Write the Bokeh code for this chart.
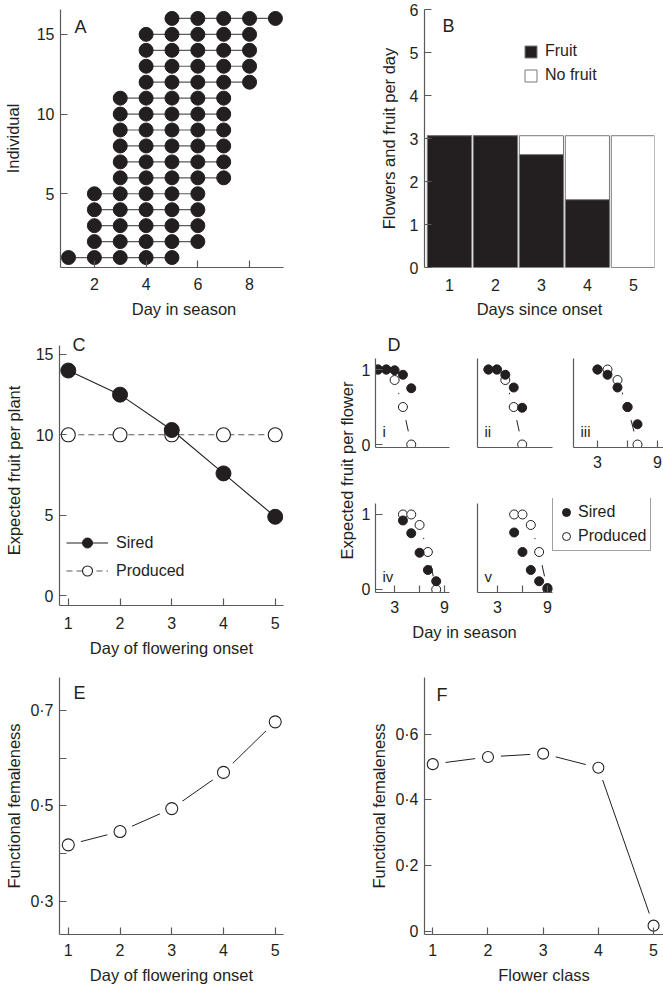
from bokeh.plotting import figure
from bokeh.layouts import row, column
from bokeh.models import (Range1d, FixedTicker, Label, Legend, LegendItem,
                          CustomJSTickFormatter)
from bokeh.embed import file_html
from bokeh.resources import INLINE

FONT = "Liberation Sans"
INK = "#231f20"
AXC = "#5a5a5a"
TICK = "16px"
LAB = "16.5px"

# ---------------- data ----------------
# Panel A: flowering period of each individual
individual = list(range(1, 17))
first_day = [1, 2, 2, 2, 2, 3, 3, 3, 3, 3, 3, 4, 4, 4, 4, 5]
last_day = [5, 6, 6, 6, 6, 7, 7, 7, 7, 7, 7, 8, 8, 8, 8, 9]

# Panel B
days_since_onset = [1, 2, 3, 4, 5]
flowers_per_day = [3.07, 3.07, 3.07, 3.07, 3.07]
fruit_per_day = [3.07, 3.07, 2.63, 1.58, 0.0]

# Panel C
onset_day = [1, 2, 3, 4, 5]
sired_per_plant = [14.0, 12.5, 10.3, 7.6, 4.9]
produced_per_plant = [10.0, 10.0, 10.0, 10.0, 10.0]

# Panel D (one sub-panel per onset day)
d_onset = [1, 2, 3, 4, 5]
d_names = ["i", "ii", "iii", "iv", "v"]
d_offsets = [0, 1, 2, 3, 4]
produced_per_flower = [1.0, 1.0, 0.86, 0.5, 0.0]
sired_per_flower = [
    [1.0, 1.0, 0.99, 0.93, 0.75],
    [1.0, 1.0, 0.93, 0.76, 0.49],
    [1.0, 0.93, 0.76, 0.50, 0.27],
    [0.92, 0.75, 0.49, 0.26, 0.11],
    [0.76, 0.50, 0.26, 0.11, 0.02],
]

# Panel E
femaleness_by_onset = [0.418, 0.446, 0.494, 0.570, 0.676]
# Panel F
flower_class = [1, 2, 3, 4, 5]
femaleness_by_class = [0.509, 0.531, 0.541, 0.498, 0.017]


# ---------------- helpers ----------------
def base(w, h, l, r, t, b, xr=(0, 1), yr=(0, 1), xloc="below", yloc="left"):
    p = figure(width=w, height=h, min_border_left=l, min_border_right=r,
               min_border_top=t, min_border_bottom=b,
               x_range=Range1d(*xr), y_range=Range1d(*yr),
               x_axis_location=xloc, y_axis_location=yloc,
               output_backend="svg", toolbar_location=None)
    p.grid.visible = False
    p.outline_line_color = None
    p.background_fill_color = "white"
    p.border_fill_color = "white"
    return p


def style(p, xs=(8, 8), ys=(6, 10), tick=TICK, lab=LAB):
    axes = [(a, xs) for a in p.xaxis] + [(a, ys) for a in p.yaxis]
    for ax, (ms, ls) in axes:
        ax.axis_line_color = AXC
        ax.axis_line_width = 1.2
        ax.major_tick_line_color = AXC
        ax.minor_tick_line_color = AXC
        ax.major_tick_line_width = 1.2
        ax.minor_tick_line_width = 1.2
        ax.major_tick_in = 7
        ax.major_tick_out = 0
        ax.minor_tick_in = 7
        ax.minor_tick_out = 0
        ax.major_label_text_font = FONT
        ax.major_label_text_font_size = tick
        ax.major_label_text_color = INK
        ax.major_label_standoff = ms
        ax.axis_label_text_font = FONT
        ax.axis_label_text_font_style = "normal"
        ax.axis_label_text_font_size = lab
        ax.axis_label_text_color = INK
        ax.axis_label_standoff = ls


def letter(p, text, x, y, size="18px"):
    p.add_layout(Label(x=x, y=y, x_units="screen", y_units="screen", text=text,
                       text_font=FONT, text_font_size=size, text_color=INK,
                       text_baseline="top", text_align="left"))


def gap_line(p, x, y, size):
    p.line(x, y, line_color=INK, line_width=1)
    p.scatter(x, y, size=26, fill_color="white", line_color=None)
    return p.scatter(x, y, size=size, fill_color="white", line_color=INK, line_width=1.1)


def legend(items, **kw):
    opts = dict(padding=0, margin=0, label_text_font=FONT, label_text_font_size="16px",
                label_text_color=INK, border_line_color=None, background_fill_alpha=0)
    opts.update(kw)
    return Legend(items=items, **opts)


# ---------------- Panel A ----------------
hA, tA, bA = 320, 9, 52
pA = base(330, hA, 59, 23, tA, bA, (0.69, 10.24), (0.375, 16.56))
style(pA, xs=(10, 7), ys=(6, 12))
pA.xaxis.bounds = (0.69, 9.32)
pA.segment(x0=first_day, x1=last_day, y0=individual, y1=individual,
           line_color=AXC, line_width=1.2)
ax_, ay_ = [], []
for ind, a, b in zip(individual, first_day, last_day):
    for d in range(a, b + 1):
        ax_.append(d)
        ay_.append(ind)
pA.scatter(ax_, ay_, size=14, fill_color=INK, line_color=INK)
pA.xaxis.ticker = FixedTicker(ticks=[2, 4, 6, 8])
pA.yaxis.ticker = FixedTicker(ticks=[5, 10, 15])
pA.xaxis.axis_label = "Day in season"
pA.yaxis.axis_label = "Individual"
letter(pA, "A", 14, hA - tA - bA - 8)

# ---------------- Panel B ----------------
hB, tB, bB = 320, 9, 52
pB = base(333, hB, 94, 9, tB, bB, (0.457, 5.46), (0, 6.01))
style(pB, xs=(11, 6), ys=(6, 9))
rNo = pB.vbar(x=days_since_onset, bottom=0, top=flowers_per_day, width=0.96,
              fill_color="white", line_color="#7a7a7a", line_width=1)
rFr = pB.vbar(x=days_since_onset, bottom=0, top=fruit_per_day, width=0.96,
              fill_color=INK, line_color="#7a7a7a", line_width=1)
pB.xaxis.ticker = FixedTicker(ticks=days_since_onset)
pB.xaxis.axis_line_color = None
pB.xaxis.major_tick_line_color = None
pB.yaxis.ticker = FixedTicker(ticks=[0, 1, 2, 3, 4, 5, 6])
pB.xaxis.axis_label = "Days since onset"
pB.yaxis.axis_label = "Flowers and fruit per day"
fhB = hB - tB - bB
pB.add_layout(legend([LegendItem(label="Fruit", renderers=[rFr]),
                      LegendItem(label="No fruit", renderers=[rNo])],
                     location=(99, 183), spacing=6, glyph_width=15,
                     glyph_height=15, label_standoff=7))
letter(pB, "B", 18, fhB - 7)

# ---------------- Panel C ----------------
hC, tC, bC = 339, 15, 54
pC = base(330, hC, 59, 47, tC, bC, (0.83, 5.16), (-0.62, 16.18))
style(pC, xs=(11, 7), ys=(6, 10))
pC.yaxis.bounds = (-0.62, 15.56)
lP = pC.line(onset_day, produced_per_plant, line_color=AXC, line_width=1.1,
             line_dash="6 4")
lS = pC.line(onset_day, sired_per_plant, line_color=INK, line_width=1.1)
cP = pC.scatter(onset_day, produced_per_plant, size=14, fill_color="white",
                line_color=INK, line_width=1.1)
cS = pC.scatter(onset_day, sired_per_plant, size=15, fill_color=INK,
                line_color=INK)
pC.xaxis.ticker = FixedTicker(ticks=onset_day)
pC.yaxis.ticker = FixedTicker(ticks=[0, 5, 10, 15])
pC.xaxis.axis_label = "Day of flowering onset"
pC.yaxis.axis_label = "Expected fruit per plant"
fhC = hC - tC - bC
pC.add_layout(legend([LegendItem(label="Sired", renderers=[lS, cS]),
                      LegendItem(label="Produced", renderers=[lP, cP])],
                     location=(7, 22), spacing=3, glyph_width=42,
                     glyph_height=25, label_standoff=8))
letter(pC, "C", 13, fhC + 1)

# ---------------- Panel D ----------------
# y-axis title shared by the five small panels (same top/bottom borders as C)
dlab = base(28, hC, 25, 0, tC, bC, xloc=None)
style(dlab, ys=(0, 0))
dlab.yaxis.ticker = FixedTicker(ticks=[])
dlab.yaxis.axis_line_color = None
dlab.yaxis.major_tick_in = 0
dlab.yaxis.axis_label = "Expected fruit per flower"


def dpanel(k, w, l, r, t, b, h, xr, yr, show_x, show_y):
    p = base(w, h, l, r, t, b, xr, yr)
    style(p, xs=(8, 5), ys=(5, 5))
    p.xaxis.bounds = (xr[0], 9.6)
    p.yaxis.bounds = (-0.04, 1.15)
    days = [d_onset[k] + o for o in d_offsets]
    p.line(days, produced_per_flower, line_color=INK, line_width=1)
    p.scatter(days, produced_per_flower, size=27, fill_color="white", line_color=None)
    rp = p.scatter(days, produced_per_flower, size=9, fill_color="white",
                   line_color=INK, line_width=1)
    rs = p.scatter(days, sired_per_flower[k], size=9, fill_color=INK, line_color=INK)
    p.xaxis.ticker = FixedTicker(ticks=[3, 9], minor_ticks=[6]) if show_x else FixedTicker(ticks=[])
    p.yaxis.ticker = FixedTicker(ticks=[0, 1]) if show_y else FixedTicker(ticks=[])
    p.add_layout(Label(x=7, y=8, x_units="screen", y_units="screen", text=d_names[k],
                       text_font=FONT, text_font_size="15px", text_color=INK,
                       text_baseline="bottom", text_align="left"))
    return p, rs, rp


top_yr = (-0.04, 1.467)
bot_yr = (-0.04, 1.213)
d1, _, _ = dpanel(0, 103, 16, 12, 14, 28, 155, (0.7, 9.6), top_yr, False, True)
d2, _, _ = dpanel(1, 96, 16, 5, 14, 28, 155, (0.7, 9.6), top_yr, False, False)
d3, _, _ = dpanel(2, 106, 16, 0, 14, 28, 155, (0.6, 9.6), top_yr, True, False)
d4, _, _ = dpanel(3, 103, 16, 12, 23, 28, 145, (0.7, 9.6), bot_yr, True, True)
d5, rs5, rp5 = dpanel(4, 202, 16, 0, 23, 28, 145, (0.6, 22.93), bot_yr, True, False)
letter(d1, "D", 12, 113)
d5.add_layout(legend([LegendItem(label="Sired", renderers=[rs5]),
                      LegendItem(label="Produced", renderers=[rp5])],
                     location=(75, 41), padding=3, spacing=2,
                     glyph_width=20, glyph_height=22, label_standoff=2,
                     border_line_color="#444444",
                     border_line_width=1, background_fill_color="white",
                     background_fill_alpha=1))

# x-axis title shared by the lower small panels
dx = base(305, 39, 56, 149, 0, 37, yloc=None)
style(dx, xs=(0, 0))
dx.xaxis.ticker = FixedTicker(ticks=[])
dx.xaxis.axis_line_color = None
dx.xaxis.major_tick_in = 0
dx.xaxis.axis_label = "Day in season"

dcol = column(row(d1, d2, d3), row(d4, d5), dx)

# ---------------- Panel E ----------------
hE, tE, bE = 327, 18, 51
pE = base(330, hE, 59, 47, tE, bE, (0.83, 5.16), (0.230, 0.769))
style(pE, xs=(9, 7), ys=(6, 4))
gap_line(pE, onset_day, femaleness_by_onset, 12)
pE.xaxis.ticker = FixedTicker(ticks=onset_day)
pE.yaxis.ticker = FixedTicker(ticks=[0.3, 0.5, 0.7], minor_ticks=[0.4, 0.6])
pE.yaxis.formatter = CustomJSTickFormatter(
    code="return tick.toFixed(1).replace('.', '\u00b7');")
pE.xaxis.axis_label = "Day of flowering onset"
pE.yaxis.axis_label = "Functional femaleness"
letter(pE, "E", 14, hE - tE - bE - 6)

# ---------------- Panel F ----------------
hF, tF, bF = 327, 18, 51
pF = base(333, hF, 94, 0, tF, bF, (0.85, 5.18), (-0.01, 0.773))
style(pF, xs=(9, 7), ys=(6, 4))
gap_line(pF, flower_class, femaleness_by_class, 11)
pF.xaxis.ticker = FixedTicker(ticks=flower_class)
pF.yaxis.ticker = FixedTicker(ticks=[0, 0.2, 0.4, 0.6])
pF.yaxis.formatter = CustomJSTickFormatter(
    code="return tick == 0 ? '0' : tick.toFixed(1).replace('.', '\u00b7');")
pF.xaxis.axis_label = "Flower class"
pF.yaxis.axis_label = "Functional femaleness"
letter(pF, "F", 12, hF - tF - bF - 8)

layout = column(row(pA, pB), row(pC, dlab, dcol), row(pE, pF))

with open("out.html", "w", encoding="utf-8") as f:
    f.write(file_html(layout, INLINE))
